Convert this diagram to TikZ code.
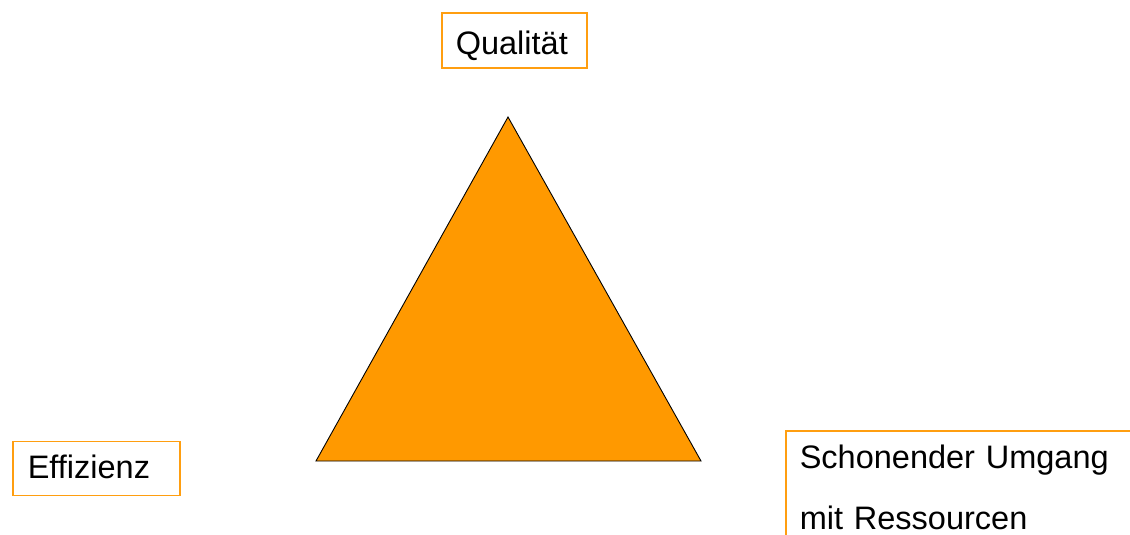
\documentclass[tikz,border=0pt]{standalone}
\usepackage{fontspec}
\setmainfont{Liberation Sans}
\definecolor{tri}{HTML}{FF9900}
\definecolor{edge}{HTML}{FF9E10}
\begin{document}
\begin{tikzpicture}[x=1pt,y=-1pt,
  lbl/.style={draw=edge, line width=1.6pt, rectangle, inner ysep=0pt, align=left,
              font=\fontsize{32.5}{61}\selectfont}]
\useasboundingbox (0,0) rectangle (1130,535);
\clip (0,0) rectangle (1130,535);
\coordinate (apex) at (508,117);
\coordinate (bl) at (316,461);
\coordinate (br) at (701,461);
\filldraw[fill=tri, draw=black, line width=0.9pt, line join=miter] (apex) -- (bl) -- (br) -- cycle;
\node[lbl, anchor=north west, inner xsep=14pt, text width=117pt, minimum height=55pt,
      text height=30pt, text depth=1pt] (q) at (441,12) {Qualität};
\node[lbl, anchor=north west, inner xsep=15pt, text width=137pt, minimum height=54pt,
      text height=22pt, text depth=1pt] (e) at (12,440.5) {Effizienz};
\node[lbl, anchor=north west, inner xsep=14pt, inner ysep=14.5pt, text width=400pt]
      (s) at (785,430) {Schonender Umgang\\mit Ressourcen};
\end{tikzpicture}
\end{document}
